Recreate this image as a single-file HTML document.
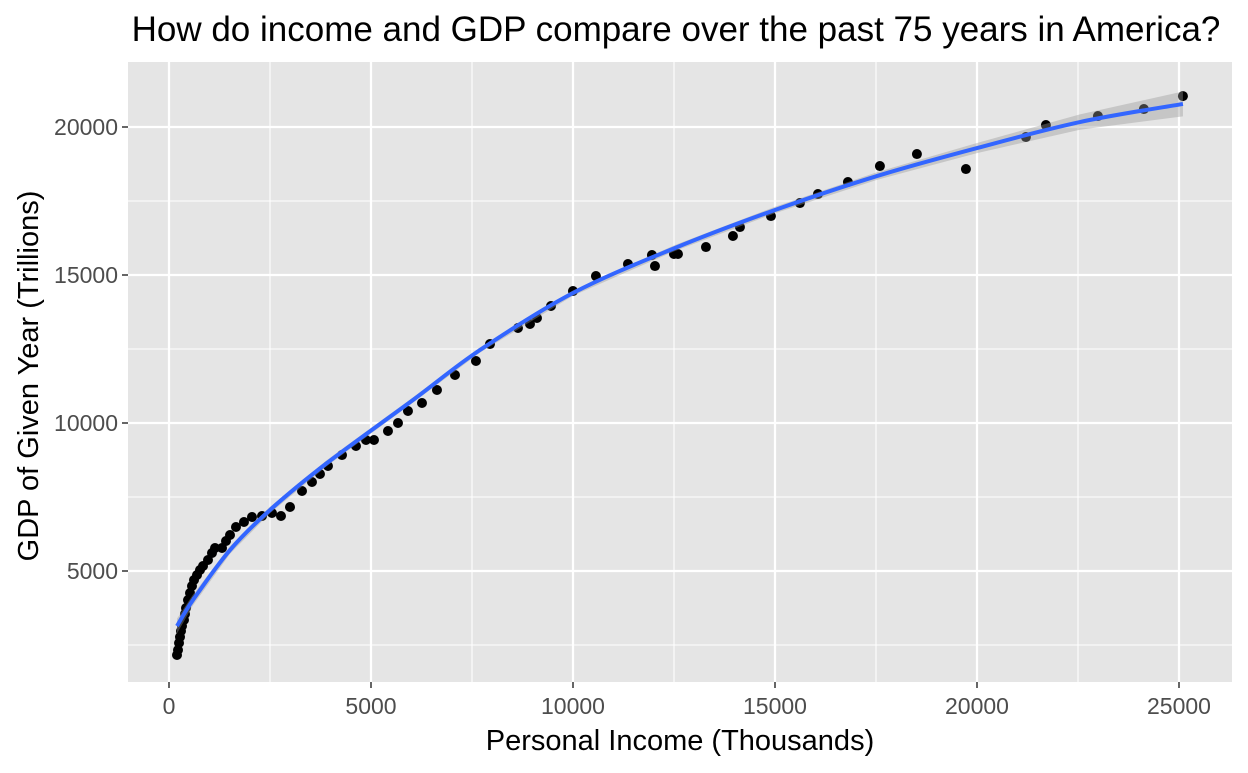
<!DOCTYPE html>
<html><head><meta charset="utf-8"><style>
body{margin:0;background:#fff;font-family:"Liberation Sans",Arial,sans-serif}
</style></head><body>
<svg id="chart" width="1248" height="768" xmlns="http://www.w3.org/2000/svg"></svg>
<script>
const incomeX=[198,223,248,272,297,322,371,396,421,470,520,569,619,693,767,842,965,1064,1139,1312,1411,1510,1658,1856,2054,2302,2549,2772,2995,3292,3539,3737,3935,4282,4628,4876,5074,5420,5668,5915,6262,6633,7079,7598,7945,8638,8935,9108,9455,9999,10568,11360,11954,12029,12499,12598,13291,13959,14132,14900,15617,16063,16805,17597,18513,19726,21211,21706,22993,24131,25097];
const gdpY=[2162,2331,2568,2770,2973,3142,3345,3547,3750,4020,4257,4493,4696,4865,5034,5169,5372,5608,5777,5777,6013,6216,6486,6655,6824,6858,6959,6858,7162,7702,8006,8277,8547,8918,9223,9425,9425,9729,10000,10405,10675,11114,11621,12094,12668,13209,13344,13547,13952,14458,14965,15371,15675,15303,15709,15709,15945,16317,16620,16992,17431,17735,18140,18681,19086,18580,19661,20066,20370,20606,21045];
const fitX=[198,594,1510,2500,3910,6039,7697,10000,12524,15000,17523,20000,22547,25097];
const fitY=[3140,4020,5709,7061,8648,10777,12466,14391,15912,17196,18343,19289,20168,20780];
const fitSE=[250,180,130,110,100,90,90,90,100,110,130,170,260,420];
const xTicks=[0,5000,10000,15000,20000,25000];
const yTicks=[5000,10000,15000,20000];

const L=128,R=1232,T=62,B=682;
const sx=v=>169+(v/5000)*202;
const sy=v=>571-((v-5000)/5000)*148;
const svg=document.getElementById('chart');
const NS='http://www.w3.org/2000/svg';
function mk(tag,attrs,parent){const e=document.createElementNS(NS,tag);for(const k in attrs)e.setAttribute(k,attrs[k]);(parent||svg).appendChild(e);return e;}
function smooth(pts){let d='M'+pts[0][0]+','+pts[0][1];for(let i=0;i<pts.length-1;i++){const p0=pts[Math.max(0,i-1)],p1=pts[i],p2=pts[i+1],p3=pts[Math.min(pts.length-1,i+2)];
const c1=[p1[0]+(p2[0]-p0[0])/6,p1[1]+(p2[1]-p0[1])/6],c2=[p2[0]-(p3[0]-p1[0])/6,p2[1]-(p3[1]-p1[1])/6];
d+=' C'+c1[0]+','+c1[1]+' '+c2[0]+','+c2[1]+' '+p2[0]+','+p2[1];}return d;}

const panel=mk('rect',{x:L,y:T,width:R-L,height:B-T,fill:'#e5e5e5'});


for(let v=-2500;v<=27500;v+=5000){const x=sx(v);if(x>L&&x<R){const g=mk('line',{x1:x,x2:x,y1:T,y2:B,stroke:'#fff','stroke-width':1.1});}}
for(let v=2500;v<=22500;v+=5000){const y=sy(v);if(y>T&&y<B){const g=mk('line',{x1:L,x2:R,y1:y,y2:y,stroke:'#fff','stroke-width':1.1});}}
xTicks.forEach(v=>{const x=sx(v);
const g=mk('line',{x1:x,x2:x,y1:T,y2:B,stroke:'#fff','stroke-width':2.2});
const t=mk('line',{x1:x,x2:x,y1:B,y2:B+6,stroke:'#333','stroke-width':1.5});
const l=mk('text',{x:x,y:714,'text-anchor':'middle','font-size':23,fill:'#4d4d4d'});l.textContent=v;});
yTicks.forEach(v=>{const y=sy(v);
const g=mk('line',{x1:L,x2:R,y1:y,y2:y,stroke:'#fff','stroke-width':2.2});
const t=mk('line',{x1:L-6,x2:L,y1:y,y2:y,stroke:'#333','stroke-width':1.5});
const l=mk('text',{x:L-10,y:y+8,'text-anchor':'end','font-size':23,fill:'#4d4d4d'});l.textContent=v;});

incomeX.forEach((v,i)=>{const c=mk('circle',{cx:sx(v),cy:sy(gdpY[i]),r:5,fill:'#000'});

});
let up=fitX.map((v,i)=>sx(v)+','+sy(fitY[i]+fitSE[i]));
let lo=fitX.map((v,i)=>sx(v)+','+sy(fitY[i]-fitSE[i])).reverse();
const rib=mk('polygon',{points:up.concat(lo).join(' '),fill:'#999','fill-opacity':0.4});


const line=mk('path',{d:smooth(fitX.map((v,i)=>[sx(v),sy(fitY[i])])),fill:'none',stroke:'#3366ff','stroke-width':4,'stroke-linejoin':'round'});



const title=mk('text',{x:676,y:41,'text-anchor':'middle','font-size':35,fill:'#000'});title.textContent='How do income and GDP compare over the past 75 years in America?';

const xt=mk('text',{x:680,y:750,'text-anchor':'middle','font-size':29,fill:'#000'});xt.textContent='Personal Income (Thousands)';

const yt=mk('text',{x:0,y:0,'text-anchor':'middle','font-size':29,fill:'#000',transform:'translate(38,376) rotate(-90)'});yt.textContent='GDP of Given Year (Trillions)';

</script>
</body></html>
